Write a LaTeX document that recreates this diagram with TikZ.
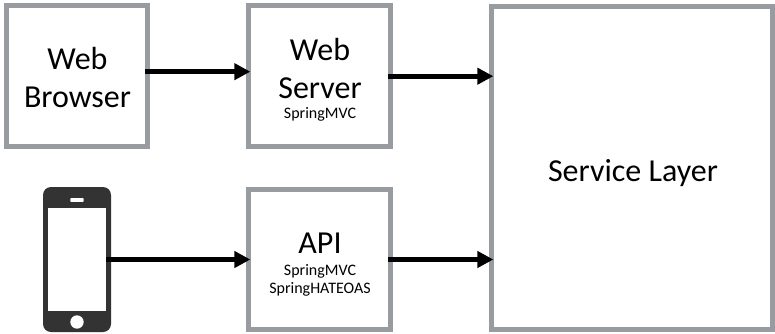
\documentclass[tikz,border=0pt]{standalone}
\usepackage{fontspec}
\setmainfont{Carlito}
\usetikzlibrary{arrows.meta}
\definecolor{boxgray}{HTML}{989B9F}
\definecolor{phonegray}{HTML}{333333}
\tikzset{
    tier/.style={draw=boxgray, line width=3.75pt, fill=white, inner sep=0pt, outer sep=0pt},
    big/.style={anchor=base, align=center, inner sep=0pt, font=\fontsize{24}{28}\selectfont},
    small/.style={anchor=base, align=center, inner sep=0pt, font=\fontsize{12}{13.5}\selectfont},
    flow/.style={-{Triangle[length=12pt, width=12pt]}, line width=4pt, black, shorten >=-1.4pt, shorten <=-1.9pt},
}
\begin{document}
\begin{tikzpicture}[x=0.75pt, y=-0.75pt]
    \useasboundingbox (0, 0) rectangle (775, 333);
    % Boxes
    \node[tier, minimum width=105.75pt, minimum height=105.4pt] (browser) at (77, 76.2) {};
    \node[tier, minimum width=106.5pt, minimum height=105.4pt] (server) at (319.5, 76.2) {};
    \node[tier, minimum width=106.5pt, minimum height=105pt] (api) at (319.5, 259.5) {};
    \node[tier, minimum width=210.75pt, minimum height=242.6pt] (service) at (632, 167.75) {};

    % Box texts
    \node[big] (browsertext) at (77.5, 107) {Web\\Browser};
    \node[big] (servertext) at (320, 98) {Web\\Server};
    \node[small] (servertech) at (320, 118) {SpringMVC};
    \node[big] (apitext) at (320, 253) {API};
    \node[small] (apitech) at (320, 293) {SpringMVC\\SpringHATEOAS};
    \node[big] (servicetext) at (633, 181) {Service Layer};

    % Phone
    \node[fill=phonegray, rounded corners=6pt, minimum width=51pt, minimum height=108.75pt, inner sep=0pt] (phone) at (77, 259.5) {};
    \node[fill=white, minimum width=43.5pt, minimum height=77.25pt, inner sep=0pt] (screen) at (77, 259.5) {};
    \node[fill=white, rounded corners=0.5pt, minimum width=10pt, minimum height=2.8pt, inner sep=0pt] (speaker) at (77, 200) {};
    \node[fill=white, circle, minimum size=10pt, inner sep=0pt] (homekey) at (77, 322) {};

    % Arrows
    \draw[flow] ([yshift=3.4pt]browser.east) -- ([yshift=3.4pt]server.west);
    \draw[flow] (server.east) -- (server.east -| service.west);
    \draw[flow, shorten <=0pt] (screen.east) -- (api.west);
    \draw[flow] (api.east) -- (api.east -| service.west);
\end{tikzpicture}
\end{document}
